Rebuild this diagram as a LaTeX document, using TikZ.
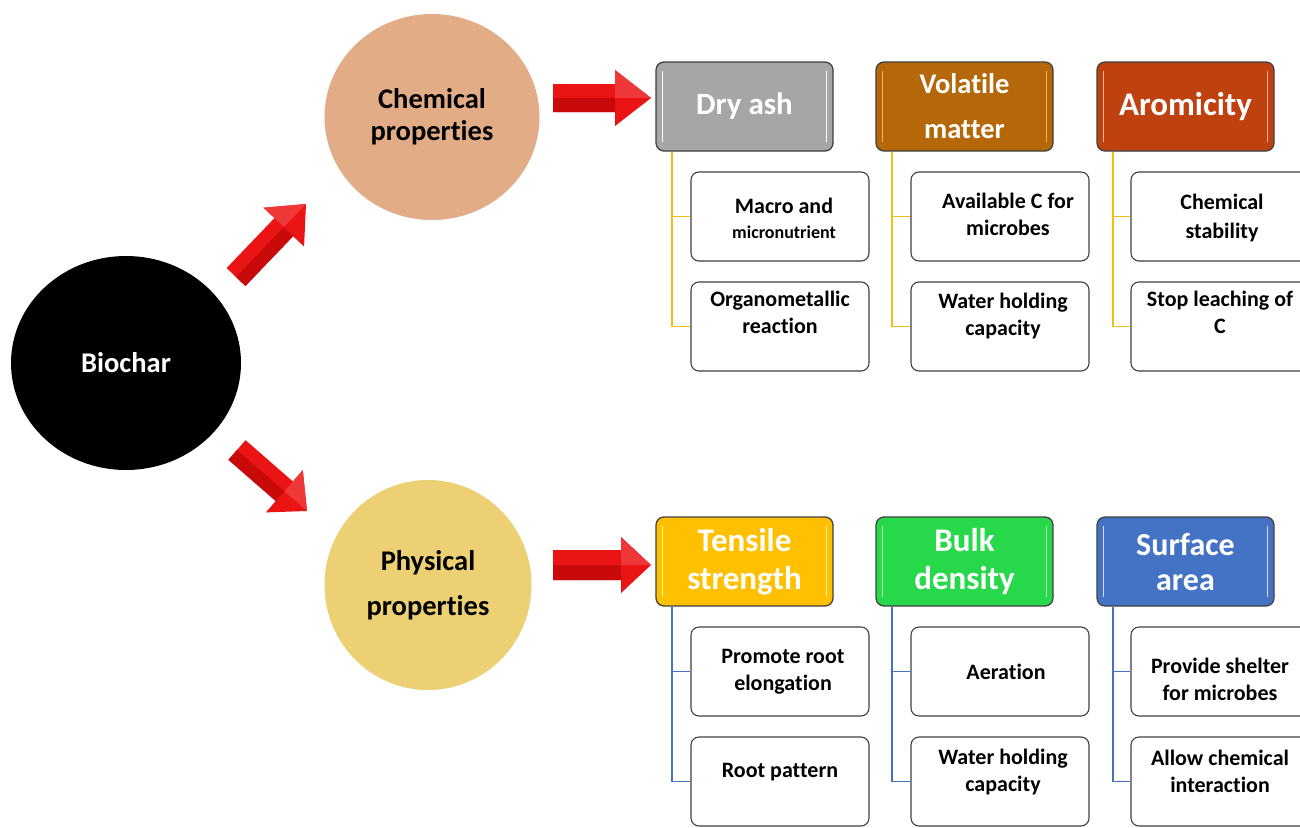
\documentclass[tikz,border=0pt]{standalone}
\usepackage{fontspec}
\setmainfont[Ligatures=NoCommon]{Carlito}
\usetikzlibrary{calc,shapes.geometric}
\definecolor{goldline}{RGB}{240,192,20}
\definecolor{blueline}{RGB}{68,114,196}
\definecolor{chemfill}{RGB}{226,172,134}
\definecolor{physfill}{RGB}{236,208,115}
\definecolor{dryfill}{RGB}{166,166,166}
\definecolor{volfill}{RGB}{180,104,10}
\definecolor{aromfill}{RGB}{190,65,15}
\definecolor{tensfill}{RGB}{255,192,0}
\definecolor{bulkfill}{RGB}{40,216,75}
\definecolor{surffill}{RGB}{68,114,196}
\definecolor{arrred}{RGB}{235,20,20}
\definecolor{arrdark}{RGB}{200,10,10}
\definecolor{boxline}{RGB}{64,64,64}
\newcommand{\blockarr}[5]{% start, end, shaft half, head half, head length
  \coordinate (hb) at ($(#2)!#5!(#1)$);
  \fill[arrred] ($(#1)!#3!90:(#2)$) -- ($(hb)!#3!-90:(#1)$) -- ($(hb)!#4!-90:(#1)$) -- (#2)
    -- ($(hb)!#4!90:(#1)$) -- ($(hb)!#3!90:(#1)$) -- ($(#1)!#3!-90:(#2)$) -- cycle;
  \fill[arrdark] (#1) -- (hb) -- ($(hb)!#4!90:(#1)$) -- ($(hb)!#3!90:(#1)$) -- ($(#1)!#3!-90:(#2)$) -- cycle;
  \fill[arrred!85!white] (hb) -- (#2) -- ($(hb)!#4!-90:(#1)$) -- cycle;
}
\tikzset{
  headbox/.style={rectangle, rounded corners=8pt, minimum width=177pt, minimum height=89pt,
    draw=boxline, line width=1.3pt, text=white, align=center, inner sep=2pt},
  childbox/.style={rectangle, rounded corners=8pt, minimum width=178pt, minimum height=89pt,
    draw=boxline, line width=1.1pt, fill=white, align=center, text width=170pt,
    font=\bfseries\fontsize{22}{27}\selectfont},
  childtext/.style={align=center, font=\bfseries\fontsize{22}{27}\selectfont, inner sep=0pt},
  bigcirc/.style={ellipse, inner sep=0pt, align=center, font=\bfseries\fontsize{28.5}{32}\selectfont},
  tree/.style={line width=1.8pt},
}
\newcommand{\bevel}[2]{%
  \draw[#2, line width=1.5pt] ($(#1.north west)+(7,10)$) -- ($(#1.south west)+(7,-10)$);
  \draw[#2, line width=1.5pt] ($(#1.north east)+(-7,10)$) -- ($(#1.south east)+(-7,-10)$);
}
\begin{document}
\begin{tikzpicture}[x=1pt,y=-1pt]
\useasboundingbox (0,0) rectangle (1300,827);
\fill[white] (0,0) rectangle (1300,827);

% circles
\node[bigcirc, fill=black, text=white, minimum width=230pt, minimum height=214pt] (bio) at (126,363) {Biochar};
\node[bigcirc, fill=chemfill, minimum width=215pt, minimum height=206pt] (chem) at (432,117) {Chemical\\properties};
\node[bigcirc, fill=physfill, minimum width=207pt, minimum height=210pt,
      font=\bfseries\fontsize{28.5}{45}\selectfont] (phys) at (428,585) {Physical\\properties};

% header boxes
\node[headbox, fill=dryfill, font=\bfseries\fontsize{31}{36}\selectfont] (dry) at (744.5,106.5) {Dry ash};
\node[headbox, fill=volfill, font=\bfseries\fontsize{28.5}{45}\selectfont] (vol) at (964.5,106.5) {Volatile\\matter};
\node[headbox, fill=aromfill, font=\bfseries\fontsize{33}{36}\selectfont] (arom) at (1185.5,106.5) {Aromicity};
\node[headbox, fill=tensfill, font=\bfseries\fontsize{33}{38}\selectfont] (tens) at (744.5,561.5) {Tensile\\strength};
\node[headbox, fill=bulkfill, font=\bfseries\fontsize{33}{38}\selectfont] (bulk) at (964.5,561.5) {Bulk\\density};
\node[headbox, fill=surffill, font=\bfseries\fontsize{32}{35}\selectfont] (surf) at (1185.5,561.5) {Surface\\area};
\bevel{dry}{white}
\bevel{vol}{orange!60!white}
\bevel{arom}{orange!50!red!40!white}
\bevel{tens}{yellow!40!white}
\bevel{bulk}{green!30!white}
\bevel{surf}{blue!15!white}

% child boxes
\node[childbox] (d1) at (780,216.5) {};
\node[childbox] (d2) at (780,326.5) {};
\node[childbox] (v1) at (1000,216.5) {};
\node[childbox] (v2) at (1000,326.5) {};
\node[childbox] (r1) at (1220,216.5) {};
\node[childbox] (r2) at (1220,326.5) {};
\node[childbox] (t1) at (780,671.5) {};
\node[childbox] (t2) at (780,781.5) {};
\node[childbox] (b1) at (1000,671.5) {};
\node[childbox] (b2) at (1000,781.5) {};
\node[childbox] (s1) at (1220,671.5) {};
\node[childbox] (s2) at (1220,781.5) {};
% child texts
\node[childtext] (d1t) at ($(d1)+(4,2)$) {Macro and\\[-2pt]{\fontsize{18}{24}\selectfont micronutrient}};
\node[childtext] (d2t) at ($(d2)+(0,-14)$) {Organometallic\\reaction};
\node[childtext] (v1t) at ($(v1)+(8,-2)$) {Available C for\\microbes};
\node[childtext] (v2t) at ($(v2)+(3,-10)$) {Water holding\\capacity};
\node[childtext] (r1t) at ($(r1)+(2,2)$) {Chemical\\[2pt]stability};
\node[childtext] (r2t) at ($(r2)+(0,-14)$) {Stop leaching of\\C};
\node[childtext] (t1t) at ($(t1)+(3,0)$) {Promote root\\elongation};
\node[childtext] (t2t) at ($(t2)+(0,-9)$) {Root pattern};
\node[childtext] (b1t) at ($(b1)+(6,0)$) {Aeration};
\node[childtext] (b2t) at ($(b2)+(3,-10)$) {Water holding\\capacity};
\node[childtext] (s1t) at ($(s1)+(0,8)$) {Provide shelter\\for microbes};
\node[childtext] (s2t) at ($(s2)+(0,-10)$) {Allow chemical\\interaction};

% tree connectors
\foreach \h/\a/\b in {dry/d1/d2, vol/v1/v2, arom/r1/r2}{
  \draw[goldline, tree] ($(\h.south west)+(17,0)$) |- (\a.west);
  \draw[goldline, tree] ($(\h.south west)+(17,0)$) |- (\b.west);
}
\foreach \h/\a/\b in {tens/t1/t2, bulk/b1/b2, surf/s1/s2}{
  \draw[blueline, tree] ($(\h.south west)+(17,0)$) |- (\a.west);
  \draw[blueline, tree] ($(\h.south west)+(17,0)$) |- (\b.west);
}

% block arrows
\coordinate (u0) at (236,277);
\coordinate (u1) at (306,204);
\coordinate (l0) at (237,450);
\coordinate (l1) at (307,511);
\coordinate (c0) at (553,98);
\coordinate (c1) at (651,98);
\coordinate (p0) at (553,565);
\coordinate (p1) at (651,565);
\blockarr{u0}{u1}{13pt}{28pt}{32pt}
\blockarr{l0}{l1}{13pt}{28pt}{30pt}
\blockarr{c0}{c1}{14pt}{28pt}{36pt}
\blockarr{p0}{p1}{15pt}{28pt}{30pt}
\end{tikzpicture}
\end{document}
